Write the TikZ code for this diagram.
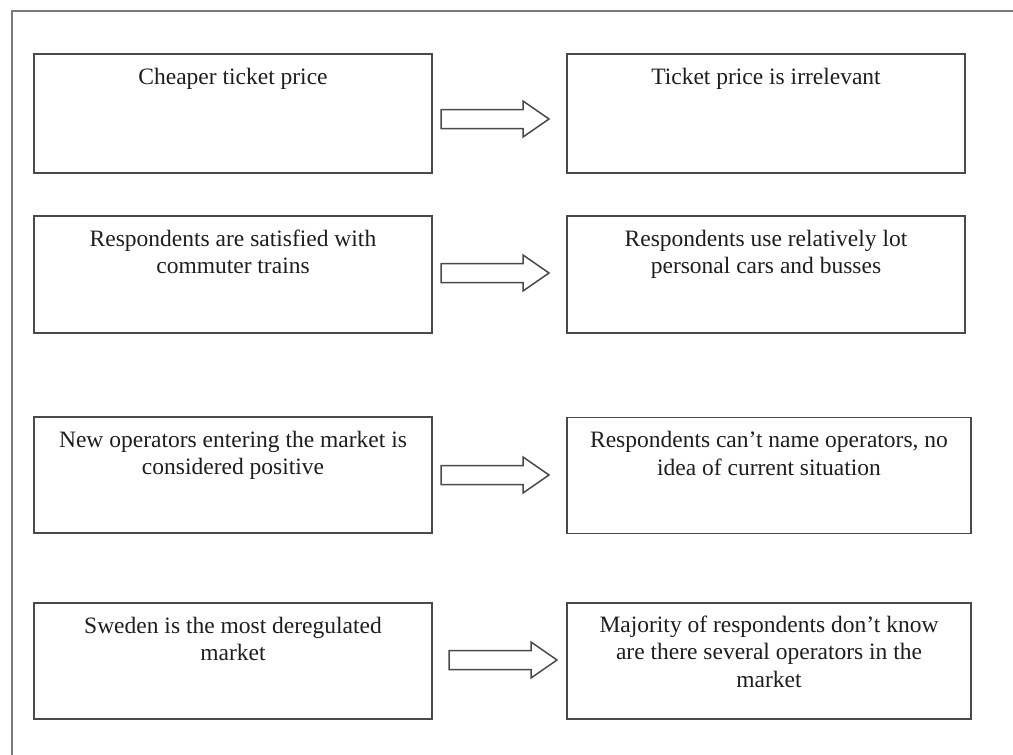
\documentclass[tikz,border=0pt]{standalone}
\usepackage{fontspec}
\setmainfont{Liberation Serif}
\definecolor{boxgray}{HTML}{4A4A4A}
\definecolor{framegray}{HTML}{7A7A7A}
\definecolor{textcol}{HTML}{1E1E1E}
\begin{document}
\begin{tikzpicture}[x=1pt,y=-1pt,
  box/.style={draw=boxgray, line width=1.3pt, inner sep=0pt, minimum width=398pt},
  widebox/.style={box, minimum width=404pt},
  txt/.style={anchor=base, inner sep=0pt, align=center, text=textcol,
    font=\fontsize{23.5}{27.5}\selectfont},
  barrow/.pic={\draw[draw=boxgray, line width=1.5pt, line join=miter, fill=white]
    (0,-9.5) -- (82,-9.5) -- (82,-18) -- (108,0) -- (82,18) -- (82,9.5) -- (0,9.5) -- cycle;}
]
\useasboundingbox (0,0) rectangle (1013,755);
% outer frame (only left and top edges visible)
\coordinate (fbl) at (12,755);
\coordinate (ftl) at (12,11);
\coordinate (ftr) at (1013,11);
\draw[draw=framegray, line width=1.6pt] (fbl) -- (ftl) -- (ftr);

% row 1
\node[box, minimum height=119pt] (l1) at (233,113.5) {};
\node[box, minimum height=119pt] (r1) at (766,113.5) {};
\node[txt] (l1t) at ([yshift=-31pt]l1.north) {Cheaper ticket price};
\node[txt] (r1t) at ([yshift=-31pt]r1.north) {Ticket price is irrelevant};
\pic at (441,119) {barrow};

% row 2
\node[box, minimum height=117pt] (l2) at (233,274.5) {};
\node[box, minimum height=117pt] (r2) at (766,274.5) {};
\node[txt] (l2t) at ([yshift=-58.5pt]l2.north) {Respondents are satisfied with\\commuter trains};
\node[txt] (r2t) at ([yshift=-58.5pt]r2.north) {Respondents use relatively lot\\personal cars and busses};
\pic at (441,273) {barrow};

% row 3
\node[box, minimum height=116pt] (l3) at (233,475) {};
\node[widebox, minimum height=116pt] (r3) at (769,475.5) {};
\node[txt] (l3t) at ([yshift=-58.5pt]l3.north) {New operators entering the market is\\considered positive};
\node[txt] (r3t) at ([yshift=-58.5pt]r3.north) {Respondents can’t name operators, no\\idea of current situation};
\pic at (441,475) {barrow};

% row 4
\node[box, minimum height=116pt] (l4) at (233,661) {};
\node[widebox, minimum height=116pt] (r4) at (769,661) {};
\node[txt] (l4t) at ([yshift=-58.5pt]l4.north) {Sweden is the most deregulated\\market};
\node[txt] (r4t) at ([yshift=-85pt]r4.north) {Majority of respondents don’t know\\are there several operators in the\\market};
\pic at (449,660) {barrow};
\end{tikzpicture}
\end{document}
